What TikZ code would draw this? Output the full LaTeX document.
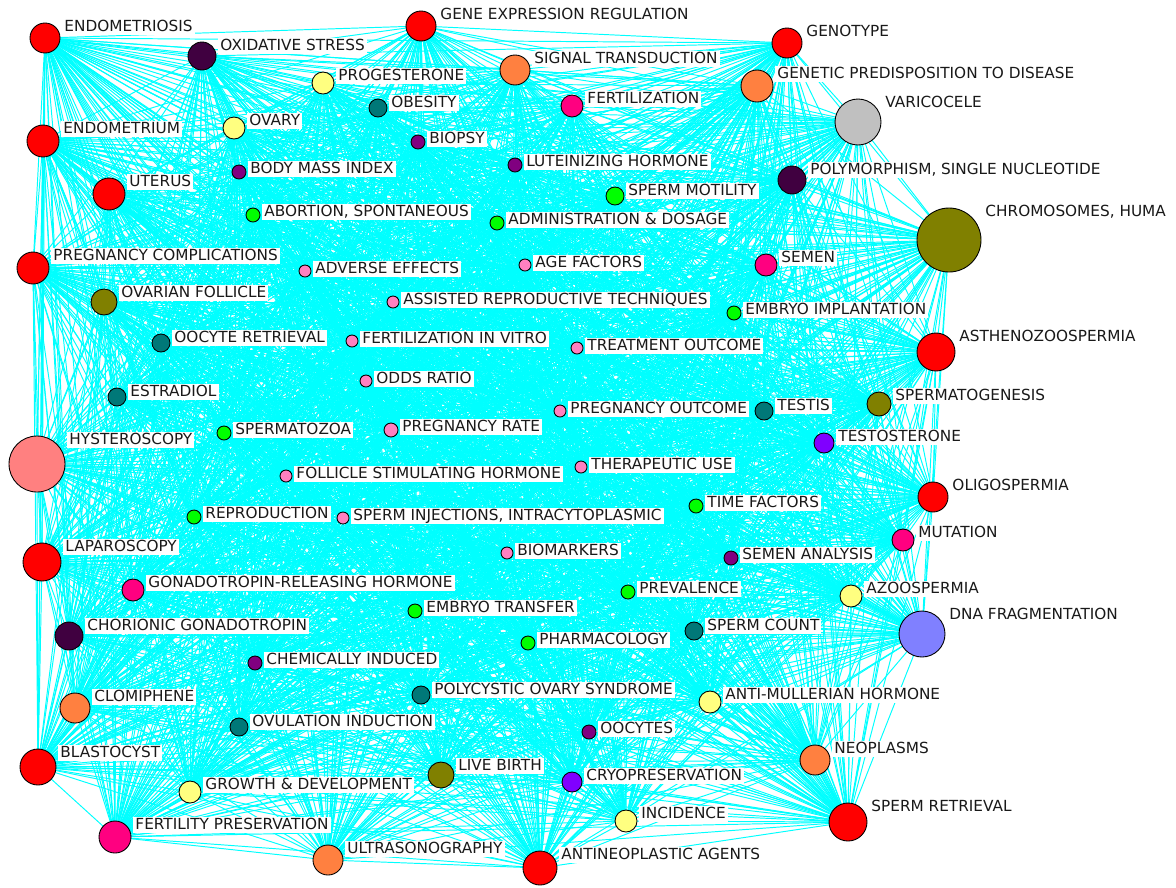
\documentclass[tikz,border=0pt]{standalone}
\usepackage{fontspec}
\setmainfont{DejaVu Sans}
\usetikzlibrary{backgrounds}
\definecolor{tred}{RGB}{255,0,0}
\definecolor{tdpurple}{RGB}{64,0,64}
\definecolor{tlyellow}{RGB}{255,255,128}
\definecolor{tteal}{RGB}{0,120,120}
\definecolor{tpurple}{RGB}{128,0,128}
\definecolor{tgreen}{RGB}{0,255,0}
\definecolor{tpink}{RGB}{255,128,192}
\definecolor{torange}{RGB}{255,128,64}
\definecolor{tmagenta}{RGB}{255,0,128}
\definecolor{tsilver}{RGB}{192,192,192}
\definecolor{tolive}{RGB}{128,128,0}
\definecolor{tsalmon}{RGB}{255,128,128}
\definecolor{tviolet}{RGB}{128,0,255}
\definecolor{tlblue}{RGB}{128,128,255}
\definecolor{tcyan}{RGB}{0,255,255}
\begin{document}
\begin{tikzpicture}[x=0.02cm, y=-0.02cm,
    termdot/.style={circle, draw=black, line width=0.5pt, inner sep=0pt},
    termlabel/.style={anchor=west, fill=white, text=black!90, inner xsep=1.2pt, inner ysep=1pt,
      text height=6.4pt, text depth=1pt, font=\fontsize{8.7}{10}\selectfont},
    link/.style={tcyan, line width=0.55pt}]
  \useasboundingbox (0,0) rectangle (1176,887);
  % terms: id/x/y/radius/colour/text
  \foreach \id/\x/\y/\r/\c/\t in {
      1/45/38/15/tred/ENDOMETRIOSIS,
      2/202/56/14/tdpurple/OXIDATIVE STRESS,
      3/323/83/11/tlyellow/PROGESTERONE,
      4/378/108/9/tteal/OBESITY,
      5/234/128/11/tlyellow/OVARY,
      6/239/172/7/tpurple/BODY MASS INDEX,
      7/253/215/7/tgreen/{ABORTION, SPONTANEOUS},
      8/43/141/16/tred/ENDOMETRIUM,
      9/109/194/16/tred/UTERUS,
      10/33/268/16/tred/PREGNANCY COMPLICATIONS,
      11/305/271/6/tpink/ADVERSE EFFECTS,
      12/421/26/15/tred/GENE EXPRESSION REGULATION,
      13/515/70/15/torange/SIGNAL TRANSDUCTION,
      14/572/106/11/tmagenta/FERTILIZATION,
      15/418/142/7/tpurple/BIOPSY,
      16/515/165/7/tpurple/LUTEINIZING HORMONE,
      17/615/196/9/tgreen/SPERM MOTILITY,
      18/497/223/7/tgreen/ADMINISTRATION \& DOSAGE,
      19/525/265/6/tpink/AGE FACTORS,
      20/787/43/15/tred/GENOTYPE,
      21/757/86/16/torange/GENETIC PREDISPOSITION TO DISEASE,
      22/858/122/23/tsilver/VARICOCELE,
      23/792/180/14/tdpurple/{POLYMORPHISM, SINGLE NUCLEOTIDE},
      24/949/240/32/tolive/{CHROMOSOMES, HUMA},
      25/766/265/11/tmagenta/SEMEN,
      26/104/302/13/tolive/OVARIAN FOLLICLE,
      27/161/343/9/tteal/OOCYTE RETRIEVAL,
      28/117/397/9/tteal/ESTRADIOL,
      29/37/464/28/tsalmon/HYSTEROSCOPY,
      30/224/433/7/tgreen/SPERMATOZOA,
      31/286/476/6/tpink/FOLLICLE STIMULATING HORMONE,
      32/194/517/7/tgreen/REPRODUCTION,
      33/343/518/6/tpink/{SPERM INJECTIONS, INTRACYTOPLASMIC},
      34/42/562/19/tred/LAPAROSCOPY,
      35/133/590/11/tmagenta/GONADOTROPIN-RELEASING HORMONE,
      36/352/341/6/tpink/FERTILIZATION IN VITRO,
      37/366/381/6/tpink/ODDS RATIO,
      38/391/430/7/tpink/PREGNANCY RATE,
      39/393/302/6/tpink/ASSISTED REPRODUCTIVE TECHNIQUES,
      40/577/348/6/tpink/TREATMENT OUTCOME,
      41/560/411/6/tpink/PREGNANCY OUTCOME,
      42/581/467/6/tpink/THERAPEUTIC USE,
      43/696/506/7/tgreen/TIME FACTORS,
      44/507/553/6/tpink/BIOMARKERS,
      45/731/558/7/tpurple/SEMEN ANALYSIS,
      46/628/592/7/tgreen/PREVALENCE,
      47/734/313/7/tgreen/EMBRYO IMPLANTATION,
      48/764/411/9/tteal/TESTIS,
      49/936/352/19/tred/ASTHENOZOOSPERMIA,
      50/879/404/12/tolive/SPERMATOGENESIS,
      51/824/443/10/tviolet/TESTOSTERONE,
      52/933/497/15/tred/OLIGOSPERMIA,
      53/903/540/11/tmagenta/MUTATION,
      54/851/596/11/tlyellow/AZOOSPERMIA,
      55/922/634/23/tlblue/DNA FRAGMENTATION,
      56/694/631/9/tteal/SPERM COUNT,
      57/69/636/14/tdpurple/CHORIONIC GONADOTROPIN,
      58/255/663/7/tpurple/CHEMICALLY INDUCED,
      59/75/708/15/torange/CLOMIPHENE,
      60/239/727/9/tteal/OVULATION INDUCTION,
      61/38/767/18/tred/BLASTOCYST,
      62/190/792/11/tlyellow/GROWTH \& DEVELOPMENT,
      63/115/837/16/tmagenta/FERTILITY PRESERVATION,
      64/328/860/15/torange/ULTRASONOGRAPHY,
      65/415/611/7/tgreen/EMBRYO TRANSFER,
      66/528/643/7/tgreen/PHARMACOLOGY,
      67/421/695/9/tteal/POLYCYSTIC OVARY SYNDROME,
      68/710/702/11/tlyellow/ANTI-MULLERIAN HORMONE,
      69/589/732/7/tpurple/OOCYTES,
      70/441/775/13/tolive/LIVE BIRTH,
      71/572/782/10/tviolet/CRYOPRESERVATION,
      72/626/821/11/tlyellow/INCIDENCE,
      73/540/868/17/tred/ANTINEOPLASTIC AGENTS,
      74/815/760/15/torange/NEOPLASMS,
      75/848/822/19/tred/SPERM RETRIEVAL}{
    \node[termdot, fill=\c, minimum size=2*\r*0.02cm] (n\id) at (\x,\y) {};
    \node[termlabel] (l\id) at (\x+\r+2,\y-\r+4) {\t};
    \expandafter\xdef\csname rad\id\endcsname{\r}
  }
  % co-occurrence links
  \pgfmathsetseed{12}
  \begin{pgfonlayer}{background}
    \foreach \i in {1,...,74}{
      \pgfmathtruncatemacro\jfirst{\i+1}
      \foreach \j in {\jfirst,...,75}{
        \pgfmathtruncatemacro\keep{rnd < 0.45+(\csname rad\i\endcsname+\csname rad\j\endcsname)/30}
        \ifnum\keep=1 \draw[link] (n\i.center) -- (n\j.center);\fi
      }
    }
  \end{pgfonlayer}
\end{tikzpicture}
\end{document}
